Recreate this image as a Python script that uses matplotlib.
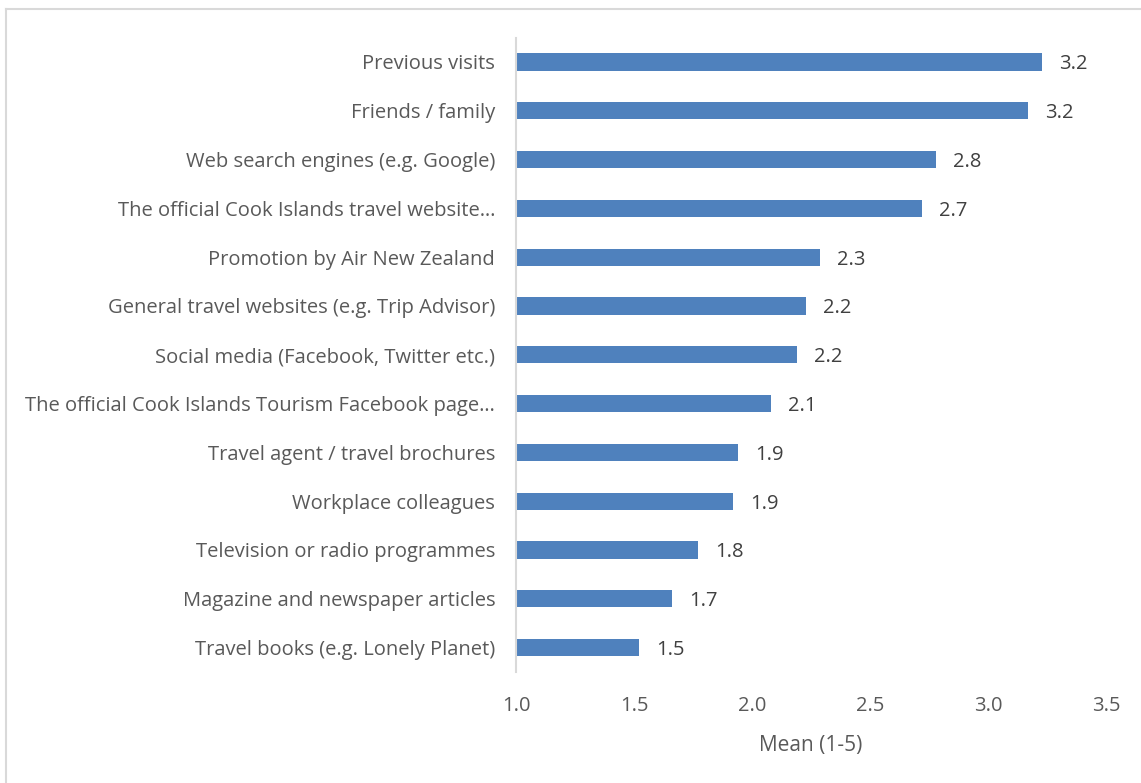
import matplotlib
matplotlib.use("Agg")
import matplotlib.pyplot as plt
from matplotlib.lines import Line2D

categories = [
    "Previous visits",
    "Friends / family",
    "Web search engines (e.g. Google)",
    "The official Cook Islands travel website\u2026",
    "Promotion by Air New Zealand",
    "General travel websites (e.g. Trip Advisor)",
    "Social media (Facebook, Twitter etc.)",
    "The official Cook Islands Tourism Facebook page\u2026",
    "Travel agent / travel brochures",
    "Workplace colleagues",
    "Television or radio programmes",
    "Magazine and newspaper articles",
    "Travel books (e.g. Lonely Planet)",
]
means = [3.23, 3.17, 2.78, 2.72, 2.29, 2.23, 2.19, 2.08, 1.94, 1.92, 1.77, 1.66, 1.52]
x_ticks = [1.0, 1.5, 2.0, 2.5, 3.0, 3.5]

plt.rcParams["font.family"] = ["Open Sans", "DejaVu Sans"]
text_color = "#595959"
bar_color = "#4f81bd"

W, H = 1141, 783
fig = plt.figure(figsize=(W / 100, H / 100), dpi=100)
# chart frame: top and left edges only
frame_kw = dict(transform=fig.transFigure, color="#d9d9d9", linewidth=1.5)
fig.lines.append(Line2D([6 / W, 1], [1 - 9 / H, 1 - 9 / H], **frame_kw))
fig.lines.append(Line2D([6 / W, 6 / W], [0, 1 - 9 / H], **frame_kw))

ax = fig.add_axes([0.4522, 0.1418, 0.5171, 0.8102])
ypos = list(range(len(categories)))
ax.barh(ypos, [m - 1.0 for m in means], left=1.0, height=0.35, color=bar_color)
for y, m in zip(ypos, means):
    ax.text(m + 0.072, y + 0.05, f"{m:.1f}", va="center", ha="left",
            fontsize=14.5, color="#404040")

ax.set_yticks(ypos)
ax.set_yticklabels(categories, fontsize=14.5, color=text_color)
ax.set_ylim(len(categories) - 0.5, -0.5)
ax.set_xlim(1.0, 3.5)
ax.set_xticks(x_ticks)
ax.set_xticklabels([f"{t:.1f}" for t in x_ticks], fontsize=14.5, color=text_color)
ax.set_xlabel("Mean (1-5)", fontsize=15, color=text_color, labelpad=14)
ax.tick_params(axis="both", length=0)
ax.tick_params(axis="y", pad=15)
ax.tick_params(axis="x", pad=17)
for side in ["top", "right", "bottom"]:
    ax.spines[side].set_visible(False)
ax.spines["left"].set_color("#d9d9d9")
ax.spines["left"].set_linewidth(1.5)

fig.savefig("out.png", dpi=100)
